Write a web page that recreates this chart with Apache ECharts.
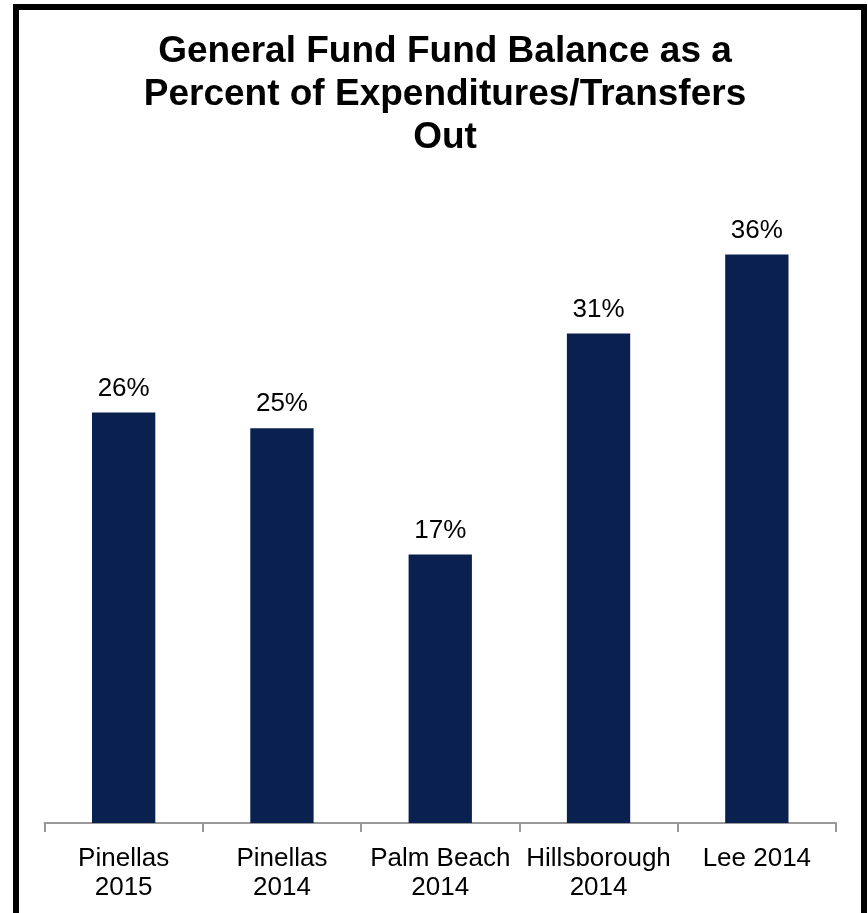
<!DOCTYPE html>
<html>
<head>
<meta charset="utf-8">
<title>General Fund Fund Balance</title>
<script src="https://cdn.jsdelivr.net/npm/echarts@6/dist/echarts.min.js"></script>
<style>
  html, body { margin: 0; padding: 0; background: #ffffff; }
  #chart { width: 868px; height: 913px; }
</style>
</head>
<body>
<div id="chart"></div>
<script>
// Counties and fiscal years shown along the category axis
const categories = ['Pinellas\n2015', 'Pinellas\n2014', 'Palm Beach\n2014', 'Hillsborough\n2014', 'Lee 2014'];
// Fund balance as a percent of expenditures/transfers out
const balancePct = [26, 25, 17, 31, 36];

const chart = echarts.init(document.getElementById('chart'), null, { renderer: 'canvas' });

chart.setOption({
  backgroundColor: '#ffffff',
  animation: false,
  title: {
    text: 'General Fund Fund Balance as a\nPercent of Expenditures/Transfers\nOut',
    left: 440,
    textAlign: 'center',
    top: 25,
    textStyle: {
      fontFamily: 'Liberation Sans, Arial, sans-serif',
      fontWeight: 'bold',
      fontSize: 37,
      lineHeight: 43,
      color: '#000000'
    }
  },
  graphic: [{
    type: 'rect',
    shape: { x: 16, y: 7, width: 848, height: 960 },
    style: { fill: 'none', stroke: '#000000', lineWidth: 6 },
    silent: true,
    z: 100
  }],
  grid: { left: 44.5, right: 32, top: 191.4, bottom: 90, containLabel: false },
  xAxis: {
    type: 'category',
    data: categories,
    axisLine: { show: true, lineStyle: { color: '#999999', width: 2 } },
    axisTick: { show: true, length: 9, alignWithLabel: false, lineStyle: { color: '#999999', width: 2 } },
    axisLabel: {
      interval: 0,
      margin: 21,
      color: '#000000',
      fontFamily: 'Liberation Sans, Arial, sans-serif',
      fontSize: 26,
      lineHeight: 29
    }
  },
  yAxis: {
    type: 'value',
    min: 0,
    max: 40,
    show: false,
    splitLine: { show: false }
  },
  series: [{
    type: 'bar',
    data: balancePct,
    barWidth: '40%',
    itemStyle: { color: '#0a2150' },
    label: {
      show: true,
      position: 'top',
      distance: 11,
      formatter: '{c}%',
      color: '#000000',
      fontFamily: 'Liberation Sans, Arial, sans-serif',
      fontSize: 26
    }
  }]
});
</script>
</body>
</html>
